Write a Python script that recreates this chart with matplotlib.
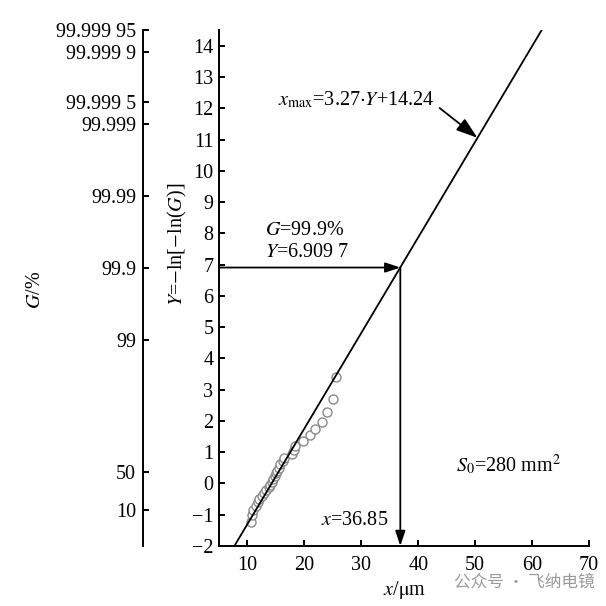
import matplotlib
matplotlib.use("Agg")
import matplotlib.pyplot as plt
import numpy as np

plt.rcParams['font.family'] = ['Liberation Serif', 'DejaVu Serif']
plt.rcParams['mathtext.fontset'] = 'stix'

x_um = [10.6, 10.8, 11.0, 11.5, 11.9, 12.0, 12.5, 12.9, 13.3, 13.7,
        14.0, 14.3, 14.5, 14.8, 15.0, 15.2, 15.5, 15.7, 16.2, 16.5,
        17.8, 18.2, 18.4, 19.8, 20.9, 21.9, 23.1, 24.0, 25.0, 25.5]
y_red = [-1.234, -1.008, -0.848, -0.717, -0.601, -0.496, -0.397, -0.303, -0.213, -0.123,
         -0.036, 0.052, 0.140, 0.230, 0.320, 0.413, 0.509, 0.609, 0.714, 0.825,
         0.943, 1.071, 1.209, 1.363, 1.537, 1.738, 1.979, 2.285, 2.708, 3.417]

# fitted line x = a*Y + b
fit_a = 3.27
fit_b = 14.24
fit_ylim = [-2, 14.5]

# read-out point
G_read = 99.9
Y_read = 6.9097
x_read = 36.85

# left probability scale
G_labels = ['10', '50', '99', '99.9', '99.99', '99.999', '99.999 5', '99.999 9', '99.999 95']
G_values = [0.10, 0.50, 0.99, 0.999, 0.9999, 0.99999, 0.999995, 0.999999, 0.9999995]

x_ticks = [10, 20, 30, 40, 50, 60, 70]
y_ticks = list(range(-2, 15))

fs = 14.5

fig = plt.figure(figsize=(6.06, 6.06), dpi=100)
ax = fig.add_axes([0.3614, 0.099, 0.6106, 0.851])

lw = 1.4
for side in ['top', 'right']:
    ax.spines[side].set_visible(False)
for side in ['left', 'bottom']:
    ax.spines[side].set_linewidth(lw)

ax.set_xlim(5, 70)
ax.set_ylim(-2, 14.5)
ax.set_xticks(x_ticks)
ax.set_yticks(y_ticks)
ax.set_yticklabels([str(v).replace('-', '\u2212') for v in y_ticks])
ax.tick_params(direction='in', length=4, width=lw, labelsize=fs, pad=4)
ax.tick_params(axis='x', pad=7)

# fitted line
yl = np.array(fit_ylim)
ax.plot(fit_a * yl + fit_b, yl, color='black', lw=1.3, zorder=3)

# data points
ax.plot(x_um, y_red, 'o', ms=6.5, mfc='white', mec='#8a8a8a', mew=1.0, zorder=2)

# read-out arrows
arr = dict(arrowstyle='-|>,head_length=0.9,head_width=0.3', color='black', lw=1.3,
           shrinkA=0, shrinkB=0)
ax.annotate('', xy=(x_read, Y_read), xytext=(5, Y_read), arrowprops=arr)
ax.annotate('', xy=(x_read, -2), xytext=(x_read, Y_read), arrowprops=arr)

ax.text(13.1, 8.11, r'$G$=99.9%', fontsize=fs, va='center', ha='left')
ax.text(13.1, 7.38, r'$Y$=6.909 7', fontsize=fs, va='center', ha='left')
ax.text(34.8, -1.17, r'$x$=36.85', fontsize=fs, va='center', ha='right')
ax.text(46.6, 0.59, r'$S_0$=280 mm$^2$', fontsize=fs, va='center', ha='left')

y_arr = 11.06
ax.annotate(r'$x_{\rm max}$=3.27$\cdot$$Y$+14.24', xy=(fit_a * y_arr + fit_b, y_arr),
            xytext=(15.4, 12.27), fontsize=fs, va='center', ha='left',
            arrowprops=dict(arrowstyle='-|>,head_length=0.9,head_width=0.3',
                            color='black', lw=1.3, shrinkA=2, shrinkB=0,
                            relpos=(1.0, 0.3)))

ax.set_xlabel(r'$x$/$\mathrm{\mu}$m', fontsize=fs, labelpad=3)
ax.set_ylabel(r'$Y$=$-$ln[$-$ln($G$)]', fontsize=fs)
ax.yaxis.set_label_coords(-0.082, 0.584)

# second scale: G in percent on a Gumbel axis
ax2 = ax.twinx()
ax2.set_ylim(ax.get_ylim())
for side in ['top', 'right', 'bottom']:
    ax2.spines[side].set_visible(False)
ax2.spines['left'].set_visible(True)
ax2.spines['left'].set_linewidth(lw)
ax2.spines['left'].set_position(('axes', -0.2054))
ax2.yaxis.set_ticks_position('left')
ax2.yaxis.set_label_position('left')
g_pos = [-np.log(-np.log(g)) for g in G_values]
ax2.set_yticks(g_pos)
ax2.set_yticklabels(G_labels)
ax2.tick_params(direction='in', length=4, width=lw, labelsize=fs, pad=5)
ax2.set_ylabel(r'$G$/%', fontsize=fs)
ax2.yaxis.set_label_coords(-0.47, 0.497)

fig.text(0.75, 0.04, '公众号 · 飞纳电镜', fontsize=12, color='#9a9a9a',
         family=['Noto Sans CJK SC', 'DejaVu Sans'], va='center', ha='left')

fig.savefig('out.png', dpi=100)
